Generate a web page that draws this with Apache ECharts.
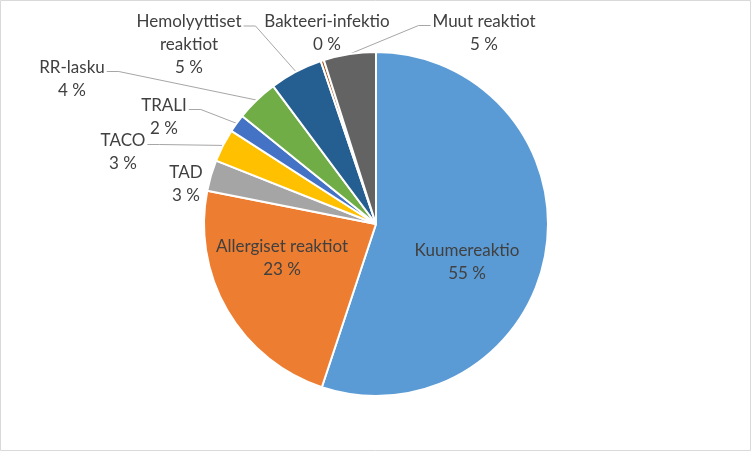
<!DOCTYPE html>
<html>
<head>
<meta charset="utf-8">
<script src="https://cdn.jsdelivr.net/npm/echarts@6/dist/echarts.min.js"></script>
<style>
html,body{margin:0;padding:0;background:#fff;}
#c{width:752px;height:452px;}
</style>
</head>
<body>
<div id="c"></div>
<script>
var categories = ['Kuumereaktio','Allergiset reaktiot','TAD','TACO','TRALI','RR-lasku','Hemolyyttiset reaktiot','Bakteeri-infektio','Muut reaktiot'];
var labelNames = ['Kuumereaktio','Allergiset reaktiot','TAD','TACO','TRALI','RR-lasku','Hemolyyttiset\nreaktiot','Bakteeri-infektio','Muut reaktiot'];
var values = [55.1, 23.0, 2.9, 3.1, 1.7, 4.0, 5.0, 0.3, 4.9];
var colors = ['#5B9BD5','#ED7D31','#A5A5A5','#FFC000','#4472C4','#70AD47','#255E91','#9E480E','#636363'];
// label anchor spots (text block centres)
var labelSpots = [[467,262],[282,258],[186,184],[123,152],[164,117],[72,79],[189,45],[327,33],[484,33]];
var showLine = [false,false,false,true,true,true,true,false,true];
var insideLabel = [true,true,false,false,false,false,false,false,false];

var chart = echarts.init(document.getElementById('c'), null, {renderer:'canvas'});
var data = categories.map(function(n,i){
  return {
    name: n,
    value: values[i],
    itemStyle: {color: colors[i]},
    label: {position: insideLabel[i] ? 'inside' : 'outside'},
    labelLine: {show: showLine[i]}
  };
});
chart.setOption({
  animation: false,
  backgroundColor: '#fff',
  graphic: [{
    type: 'rect', shape: {x: 0.5, y: 0.5, width: 750, height: 450},
    style: {fill: 'none', stroke: '#D9D9D9', lineWidth: 1}, silent: true, z: -1
  }],
  series: [{
    type: 'pie',
    center: [376, 224],
    radius: 172,
    startAngle: 90,
    clockwise: true,
    avoidLabelOverlap: false,
    itemStyle: {borderColor: '#fff', borderWidth: 2},
    label: {
      show: true,
      fontFamily: 'Lato',
      fontSize: 17,
      lineHeight: 23,
      color: '#404040',
      align: 'center',
      formatter: function(p){ return labelNames[p.dataIndex] + '\n' + Math.round(p.percent) + ' %'; }
    },
    labelLine: {lineStyle: {color: '#A6A6A6', width: 1}, length: 10, length2: 10, smooth: false},
    labelLayout: function(p){
      var i = p.dataIndex;
      var s = labelSpots[i];
      var res = {x: s[0], y: s[1], align: 'center', verticalAlign: 'middle'};
      if (showLine[i] && p.labelLinePoints && p.labelLinePoints.length) {
        var a = p.labelLinePoints[0];
        var w = p.labelRect.width, h = p.labelRect.height;
        var ty = s[1] - h / 2 + 11.5 + 4;
        var right = a[0] > s[0];
        var ex = right ? s[0] + w / 2 + 2 : s[0] - w / 2 - 2;
        var mx = right ? ex + 12 : ex - 12;
        res.labelLinePoints = [[a[0], a[1]], [mx, ty], [ex, ty]];
      }
      return res;
    },
    emphasis: {disabled: true},
    data: data
  }]
});
</script>
</body>
</html>
